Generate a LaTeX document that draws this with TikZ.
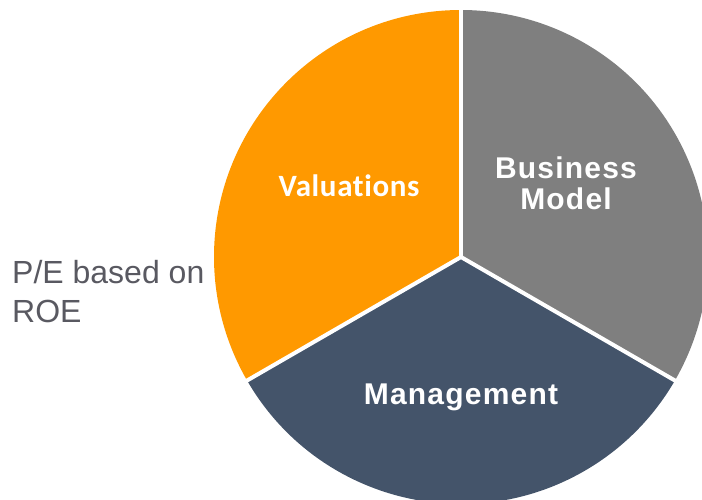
\documentclass[tikz,border=0pt]{standalone}
\usepackage{fontspec}
\usetikzlibrary{calc}
\setmainfont{Liberation Sans}
\newfontfamily\widesans[LetterSpace=4]{Liberation Sans}
\newfontfamily\calibfont[LetterSpace=2,Ligatures=NoCommon]{Carlito}
\definecolor{sliceorange}{HTML}{FF9900}
\definecolor{slicegray}{HTML}{7F7F7F}
\definecolor{slicenavy}{HTML}{44546A}
\definecolor{notegray}{HTML}{595961}
\begin{document}
\begin{tikzpicture}[x=1pt,y=1pt,
  slicelabel/.style={text=white,font=\widesans\bfseries\fontsize{30}{33}\selectfont,align=center,inner sep=0pt},
  divider/.style={white,line width=4pt}]
\useasboundingbox (0,0) rectangle (702,499);
\clip (0,0) rectangle (702,499);
\coordinate (c) at (461,242);
% three equal slices
\fill[sliceorange] (c) -- ++(90:247) arc[start angle=90,end angle=210,radius=247] -- cycle;
\fill[slicenavy] (c) -- ++(210:247) arc[start angle=210,end angle=330,radius=247] -- cycle;
\fill[slicegray] (c) -- ++(330:247) arc[start angle=330,end angle=450,radius=247] -- cycle;
% white separators between slices
\coordinate (e1) at ($(c)+(90:250)$);
\coordinate (e2) at ($(c)+(210:250)$);
\coordinate (e3) at ($(c)+(330:250)$);
\draw[divider] (c) -- (e1);
\draw[divider] (c) -- (e2);
\draw[divider] (c) -- (e3);
% slice labels
\node[slicelabel,font=\calibfont\bfseries\fontsize{31}{34}\selectfont] (val) at (349,313) {Valuations};
\node[slicelabel] (bm) at (566,316) {Business\\[-2pt]Model};
\node[slicelabel] (mg) at (461,102) {Management};
% side note
\node[anchor=west,align=left,text=notegray,font=\fontsize{32}{39}\selectfont,inner sep=0pt] (pe) at (12,207) {P/E based on\\ROE};
\end{tikzpicture}
\end{document}
